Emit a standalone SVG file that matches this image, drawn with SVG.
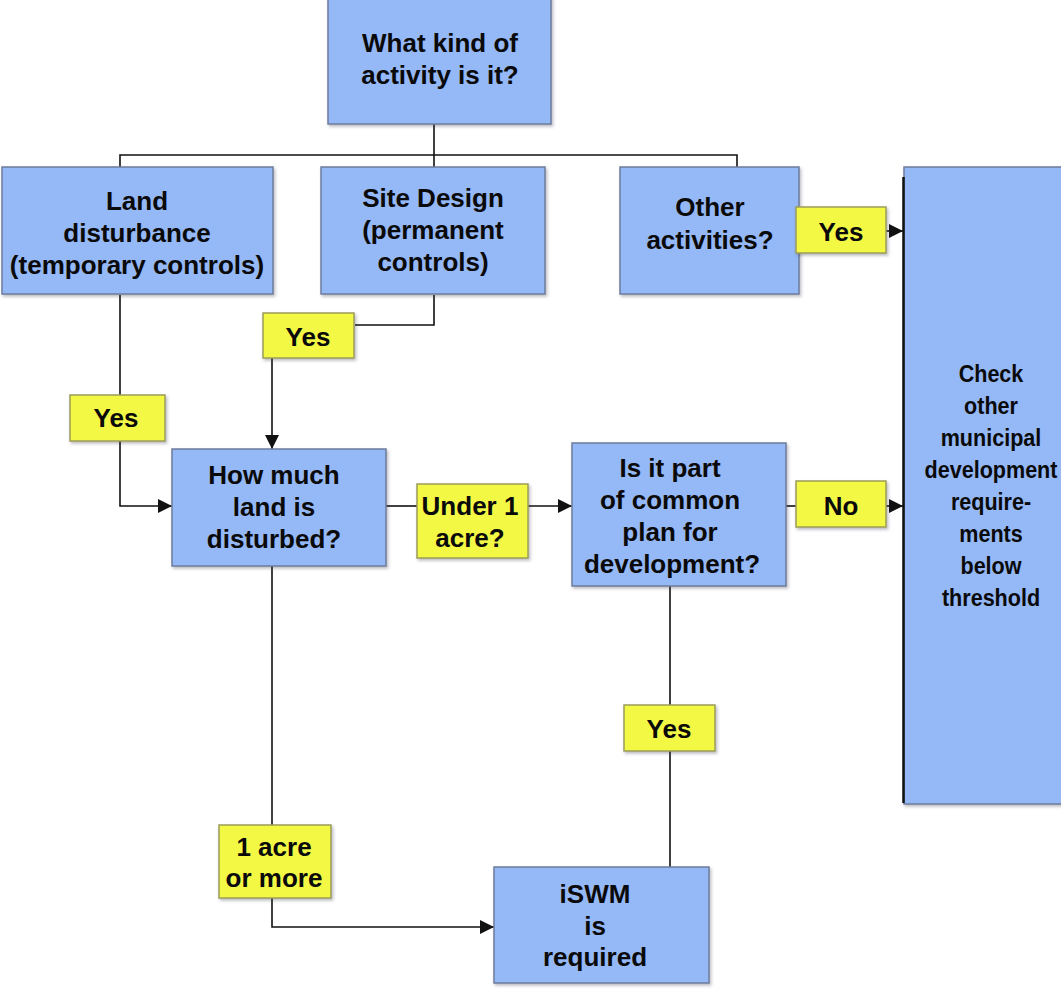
<svg xmlns="http://www.w3.org/2000/svg" width="1061" height="994" viewBox="0 0 1061 994">
<style>
.box{fill:#95b8f6;stroke:#6d7c9c;stroke-width:1.5}
.lbl{fill:#f3f845;stroke:#9c9c5a;stroke-width:1.5}
.t{font-family:"Liberation Sans",Arial,sans-serif;font-weight:bold;font-size:26px;fill:#0a0a0a;text-anchor:middle}
.r{font-size:24.5px}
.c{fill:none;stroke:#111;stroke-width:1.6}
</style>
<defs>
<marker id="ah" viewBox="0 0 10 10" refX="10" refY="5" markerWidth="14" markerHeight="14" markerUnits="userSpaceOnUse" orient="auto">
<path d="M0,0 L10,5 L0,10 z" fill="#111"/>
</marker>
<filter id="sh" x="-10%" y="-10%" width="130%" height="130%">
<feDropShadow dx="1.5" dy="2" stdDeviation="1.5" flood-color="#445" flood-opacity="0.35"/>
</filter>
</defs>
<rect width="1061" height="994" fill="#fff"/>
<g id="connectors">
<path class="c" d="M434,124 V167"/>
<path class="c" d="M120,167 V155 H737 V167"/>
<path class="c" d="M886,231 H903" marker-end="url(#ah)"/>
<path class="c" d="M120,295 V506 H172" marker-end="url(#ah)"/>
<path class="c" d="M434,295 V325 H355"/>
<path class="c" d="M272,358 V449" marker-end="url(#ah)"/>
<path class="c" d="M386,506 H417"/>
<path class="c" d="M528,506 H572" marker-end="url(#ah)"/>
<path class="c" d="M786,506 H796"/>
<path class="c" d="M886,506 H903" marker-end="url(#ah)"/>
<path class="c" d="M670,586 V705"/>
<path class="c" d="M670,751 V867"/>
<path class="c" d="M272,566 V825"/>
<path class="c" d="M272,897 V927 H494" marker-end="url(#ah)"/>
</g>
<g id="n-activity">
<rect class="box" x="328" y="-4" width="223" height="128" filter="url(#sh)"/>
<text class="t" x="440" y="52">What kind of</text>
<text class="t" x="440" y="84">activity is it?</text>
</g>
<g id="n-land">
<rect class="box" x="2" y="167" width="271" height="127" filter="url(#sh)"/>
<text class="t" x="137" y="210">Land</text>
<text class="t" x="137" y="242">disturbance</text>
<text class="t" x="137" y="274">(temporary controls)</text>
</g>
<g id="n-site">
<rect class="box" x="321" y="167" width="224" height="127" filter="url(#sh)"/>
<text class="t" x="433" y="207">Site Design</text>
<text class="t" x="433" y="239">(permanent</text>
<text class="t" x="433" y="271">controls)</text>
</g>
<g id="n-other">
<rect class="box" x="620" y="167" width="179" height="127" filter="url(#sh)"/>
<text class="t" x="710" y="216">Other</text>
<text class="t" x="710" y="249">activities?</text>
</g>
<g id="n-check">
<rect class="box" x="904" y="167" width="160" height="637" filter="url(#sh)"/>
<line x1="903.5" y1="177" x2="903.5" y2="803" stroke="#111" stroke-width="2.5"/>
<g transform="translate(991,0) scale(0.88,1)">
<text class="t r" x="0" y="382">Check</text>
<text class="t r" x="0" y="414">other</text>
<text class="t r" x="0" y="446">municipal</text>
<text class="t r" x="0" y="478">development</text>
<text class="t r" x="0" y="510">require-</text>
<text class="t r" x="0" y="542">ments</text>
<text class="t r" x="0" y="574">below</text>
<text class="t r" x="0" y="606">threshold</text>
</g>
</g>
<g id="n-howmuch">
<rect class="box" x="172" y="449" width="214" height="117" filter="url(#sh)"/>
<text class="t" x="274" y="484">How much</text>
<text class="t" x="274" y="516">land is</text>
<text class="t" x="274" y="548">disturbed?</text>
</g>
<g id="n-plan">
<rect class="box" x="572" y="443" width="214" height="143" filter="url(#sh)"/>
<text class="t" x="670" y="477">Is it part</text>
<text class="t" x="670" y="509">of common</text>
<text class="t" x="670" y="541">plan for</text>
<text class="t" x="672" y="573">development?</text>
</g>
<g id="n-iswm">
<rect class="box" x="494" y="867" width="215" height="116" filter="url(#sh)"/>
<text class="t" x="595" y="903">iSWM</text>
<text class="t" x="595" y="935">is</text>
<text class="t" x="595" y="966">required</text>
</g>
<g id="l-yes-other">
<rect class="lbl" x="796" y="207" width="90" height="46" filter="url(#sh)"/>
<text class="t" x="841" y="241">Yes</text>
</g>
<g id="l-yes-site">
<rect class="lbl" x="263" y="313" width="91" height="45" filter="url(#sh)"/>
<text class="t" x="308" y="346">Yes</text>
</g>
<g id="l-yes-land">
<rect class="lbl" x="70" y="395" width="95" height="46" filter="url(#sh)"/>
<text class="t" x="116" y="427">Yes</text>
</g>
<g id="l-under">
<rect class="lbl" x="417" y="484" width="111" height="74" filter="url(#sh)"/>
<text class="t" x="470" y="515">Under 1</text>
<text class="t" x="470" y="547">acre?</text>
</g>
<g id="l-no">
<rect class="lbl" x="796" y="481" width="90" height="46" filter="url(#sh)"/>
<text class="t" x="841" y="515">No</text>
</g>
<g id="l-yes-plan">
<rect class="lbl" x="624" y="705" width="91" height="46" filter="url(#sh)"/>
<text class="t" x="669" y="738">Yes</text>
</g>
<g id="l-acre">
<rect class="lbl" x="219" y="825" width="112" height="73" filter="url(#sh)"/>
<text class="t" x="274" y="856">1 acre</text>
<text class="t" x="274" y="887">or more</text>
</g>
</svg>
